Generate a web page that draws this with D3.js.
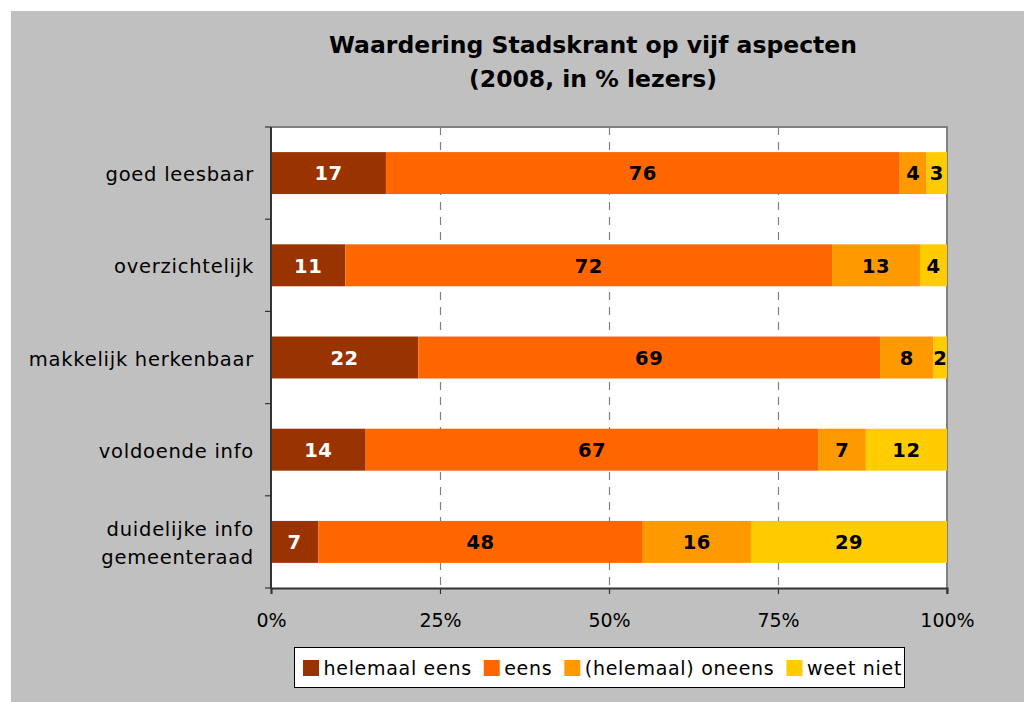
<!DOCTYPE html>
<html>
<head>
<meta charset="utf-8">
<script src="https://cdn.jsdelivr.net/npm/d3@7"></script>
<style>
  html, body { margin: 0; padding: 0; background: #ffffff; }
  svg { display: block; font-family: "DejaVu Sans", Verdana, sans-serif; }
</style>
</head>
<body>
<svg id="chart" width="1024" height="702"></svg>
<script>
// ---- data ----
const categories = ["goed leesbaar", "overzichtelijk", "makkelijk herkenbaar", "voldoende info", "duidelijke info\ngemeenteraad"];
const seriesNames = ["helemaal eens", "eens", "(helemaal) oneens", "weet niet"];
const helemaalEens = [17, 11, 22, 14, 7];
const eens = [76, 72, 69, 67, 48];
const oneens = [4, 13, 8, 7, 16];
const weetNiet = [3, 4, 2, 12, 29];
const seriesColors = ["#993300", "#FF6600", "#FF9900", "#FFCC00"];
const labelColors = ["#ffffff", "#000000", "#000000", "#000000"];
const xTicks = [0, 0.25, 0.5, 0.75, 1];
const titleLines = ["Waardering Stadskrant op vijf aspecten", "(2008, in % lezers)"];

// ---- layout ----
const svg = d3.select("#chart");
const W = 1024, H = 702;
const plot = { left: 271, right: 947, top: 127, bottom: 588 };

svg.append("rect").attr("x", 0).attr("y", 0).attr("width", W).attr("height", H).attr("fill", "#ffffff");
svg.append("rect").attr("x", 11).attr("y", 11).attr("width", W - 11).attr("height", H - 11).attr("fill", "#C0C0C0");

// title
svg.append("g").selectAll("text").data(titleLines).join("text")
  .attr("x", 593).attr("y", (d, i) => 53 + i * 33.5)
  .attr("text-anchor", "middle")
  .attr("font-size", 23.5).attr("font-weight", "bold").attr("fill", "#000")
  .text(d => d);

// data table
const valuesBySeries = [helemaalEens, eens, oneens, weetNiet];
const rows = categories.map((c, i) => {
  const row = { category: c };
  seriesNames.forEach((s, j) => row[s] = valuesBySeries[j][i]);
  return row;
});
const normalized = rows.map(r => {
  const tot = d3.sum(seriesNames, s => r[s]);
  const o = { category: r.category };
  seriesNames.forEach(s => o[s] = r[s] / tot);
  return o;
});
const stack = d3.stack().keys(seriesNames);
const stacked = stack(normalized);

const x = d3.scaleLinear().domain([0, 1]).range([plot.left, plot.right]);
const y = d3.scaleBand().domain(categories).range([plot.top, plot.bottom]).paddingInner(0.545).paddingOuter(0.2725);

// plot area
svg.append("rect").attr("x", plot.left).attr("y", plot.top)
  .attr("width", plot.right - plot.left).attr("height", plot.bottom - plot.top)
  .attr("fill", "#ffffff");

// gridlines
svg.append("g").selectAll("line").data(xTicks.filter(t => t > 0 && t < 1)).join("line")
  .attr("x1", d => Math.round(x(d)) + 0.5).attr("x2", d => Math.round(x(d)) + 0.5)
  .attr("y1", plot.top).attr("y2", plot.bottom)
  .attr("stroke", "#808080").attr("stroke-width", 1.2).attr("stroke-dasharray", "8,7");

// top & right border
svg.append("path")
  .attr("d", `M${plot.left},${plot.top} H${plot.right} V${plot.bottom + 6}`)
  .attr("fill", "none").attr("stroke", "#808080").attr("stroke-width", 2);

// bars
const layers = svg.append("g").selectAll("g").data(stacked).join("g")
  .attr("fill", (d, i) => seriesColors[i]);
layers.selectAll("rect").data(d => d).join("rect")
  .attr("x", d => x(d[0])).attr("width", d => x(d[1]) - x(d[0]))
  .attr("y", d => y(d.data.category)).attr("height", y.bandwidth());

// bar labels
stacked.forEach((layer, si) => {
  svg.append("g").selectAll("text").data(layer).join("text")
    .attr("x", d => (x(d[0]) + x(d[1])) / 2)
    .attr("y", d => y(d.data.category) + y.bandwidth() / 2 + 7.3)
    .attr("text-anchor", "middle")
    .attr("font-size", 19.5).attr("font-weight", "bold")
    .attr("letter-spacing", 0.5)
    .attr("fill", labelColors[si])
    .text((d, i) => valuesBySeries[si][i]);
});

// axes
const axisColor = "#333333";
const xAxis = d3.axisBottom(x).tickValues(xTicks).tickFormat(d3.format(".0%")).tickSize(6).tickPadding(0);
const gx = svg.append("g").attr("transform", `translate(0,${plot.bottom})`).call(xAxis);
gx.select(".domain").attr("stroke", axisColor).attr("stroke-width", 2);
gx.selectAll(".tick line").attr("stroke", axisColor).attr("stroke-width", 1.2);
gx.selectAll(".tick text").attr("font-size", 19).attr("font-family", "DejaVu Sans, sans-serif")
  .attr("fill", "#000").attr("dy", null).attr("y", 39);

// y axis line and ticks at band boundaries
const boundaries = d3.range(categories.length + 1).map(i => plot.top + i * (plot.bottom - plot.top) / categories.length);
svg.append("line").attr("x1", plot.left).attr("x2", plot.left).attr("y1", plot.top).attr("y2", plot.bottom + 1)
  .attr("stroke", axisColor).attr("stroke-width", 2);
svg.append("g").selectAll("line").data(boundaries).join("line")
  .attr("x1", plot.left - 6).attr("x2", plot.left).attr("y1", d => d).attr("y2", d => d)
  .attr("stroke", axisColor).attr("stroke-width", 1.2);

// category labels
const catG = svg.append("g");
categories.forEach(c => {
  const lines = c.split("\n");
  const cy = y(c) + y.bandwidth() / 2;
  const t = catG.append("text").attr("text-anchor", "end").attr("font-size", 19.5)
    .attr("letter-spacing", 0.75).attr("fill", "#000");
  lines.forEach((ln, k) => {
    t.append("tspan").attr("x", 254)
      .attr("y", cy + 8 + (k - (lines.length - 1) / 2) * 28)
      .text(ln);
  });
});

// legend
const lg = svg.append("g");
lg.append("rect").attr("x", 294.5).attr("y", 647.5).attr("width", 610).attr("height", 40)
  .attr("fill", "#ffffff").attr("stroke", "#000").attr("stroke-width", 1);
let lx = 303;
seriesNames.forEach((s, i) => {
  lg.append("rect").attr("x", lx).attr("y", 660).attr("width", 16).attr("height", 16).attr("fill", seriesColors[i]);
  const t = lg.append("text").attr("x", lx + 20.5).attr("y", 675).attr("font-size", 19)
    .attr("letter-spacing", 0.7).attr("fill", "#000").text(s);
  lx = lx + 20.5 + t.node().getComputedTextLength() + 12;
});
</script>
</body>
</html>
